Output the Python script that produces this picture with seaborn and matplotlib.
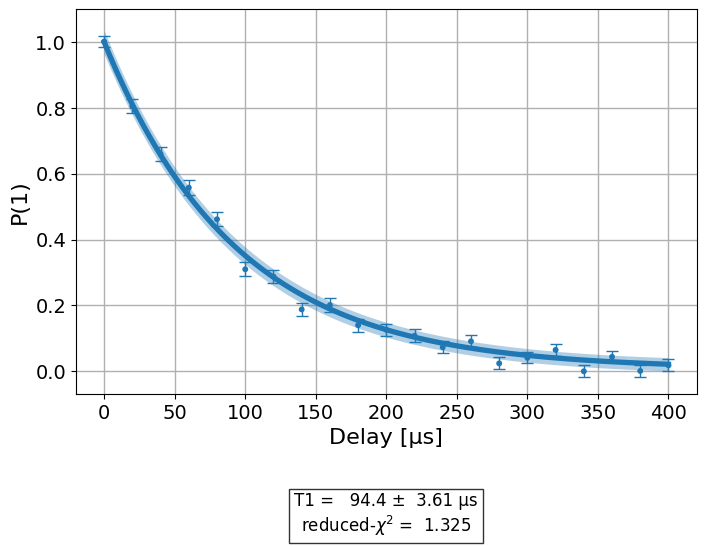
import numpy as np
import pandas as pd
import matplotlib
matplotlib.use("Agg")
import matplotlib.pyplot as plt
import seaborn as sns

# measured data
delay_us = [0, 20, 40, 60, 80, 100, 120, 140, 160, 180, 200,
            220, 240, 260, 280, 300, 320, 340, 360, 380, 400]
p1 = [1.002, 0.805, 0.660, 0.558, 0.462, 0.310, 0.288, 0.188, 0.201, 0.140, 0.126,
      0.108, 0.073, 0.091, 0.024, 0.041, 0.065, 0.000, 0.044, 0.001, 0.018]
p1_err = [0.017, 0.021, 0.021, 0.022, 0.021, 0.021, 0.021, 0.020, 0.021, 0.020, 0.019,
          0.019, 0.018, 0.018, 0.018, 0.017, 0.018, 0.018, 0.017, 0.017, 0.018]

# fit parameters (exponential decay model A*exp(-t/T1)+B)
amp, amp_err = 0.993, 0.03
t1, t1_err = 94.4, 3.61
offset, offset_err = 0.007, 0.02
red_chi2 = 1.325

color = "#1f77b4"

fig = plt.figure(figsize=(7.06, 5.46), dpi=100)
ax = fig.add_axes([0.1076, 0.2784, 0.8792, 0.7046])

t_fit = np.linspace(0, 400, 401)
decay = np.exp(-t_fit / t1)
y_fit = amp * decay + offset
dy = np.sqrt((amp_err * decay) ** 2
             + (amp * t_fit / t1 ** 2 * t1_err * decay) ** 2
             + offset_err ** 2)

ax.fill_between(t_fit, y_fit - dy, y_fit + dy, color=color, alpha=0.35, lw=0)
fit_df = pd.DataFrame({"t": t_fit, "y": y_fit})
sns.lineplot(data=fit_df, x="t", y="y", color=color, lw=3.8, ax=ax)

df = pd.DataFrame({"t": delay_us, "p": p1, "e": p1_err})
ax.errorbar(df["t"], df["p"], yerr=df["e"], fmt="none", ecolor=color,
            capsize=4, elinewidth=1.0, capthick=1.0, zorder=3)
sns.scatterplot(data=df, x="t", y="p", color=color, s=18, edgecolor="none",
                ax=ax, zorder=4)

ax.set_xlim(-20, 420)
ax.set_ylim(-0.069, 1.10)
ax.grid(True, color="#b0b0b0", lw=1.0)
ax.set_axisbelow(True)
ax.tick_params(labelsize=14)
ax.set_xlabel("Delay [μs]", fontsize=16)
ax.set_ylabel("P(1)", fontsize=16)

fig.text(0.547, 0.057,
         f"T1 =   {t1} ±  {t1_err} μs\nreduced-$\\chi^2$ =  {red_chi2}",
         ha="center", va="center", fontsize=12, multialignment="center",
         bbox=dict(boxstyle="square,pad=0.3", facecolor="white",
                   edgecolor="#333333", lw=1.0))

fig.savefig("out.png", dpi=100)
